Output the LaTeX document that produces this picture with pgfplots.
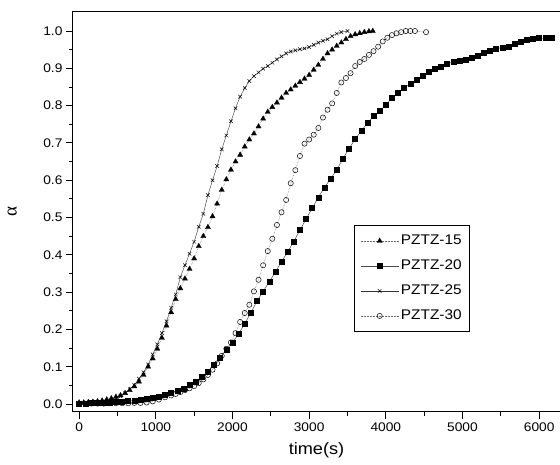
\documentclass[border=0pt]{standalone}
\usepackage{fontspec}
\setmainfont{Liberation Sans}[FakeStretch=1.1]
\newfontfamily\alphafont{Liberation Serif}
\usepackage{pgfplots}
\pgfplotsset{compat=1.18}
\pgfplotsset{
  /pgfplots/mylegimg/.style={legend image code/.code={
    \draw[mark repeat=2,mark phase=2,##1] plot coordinates {(0pt,0pt) (19pt,0pt) (38pt,0pt)};}}
}
\begin{document}
\begin{tikzpicture}
\begin{axis}[
  scale only axis,
  width=487pt, height=400pt,
  xmin=-80, xmax=6272,
  ymin=-0.0214, ymax=1.051,
  axis line style={line width=1pt},
  tick align=outside, tick pos=left,
  major tick length=7pt, minor tick length=4pt,
  every tick/.style={black, line width=0.9pt},
  xtick={0,1000,2000,3000,4000,5000,6000}, minor x tick num=1,
  ytick={0,0.1,0.2,0.3,0.4,0.5,0.6,0.7,0.8,0.9,1.0}, minor y tick num=1,
  /pgf/number format/assume math mode=true,
  yticklabel style={/pgf/number format/.cd, fixed, fixed zerofill, precision=1},
  xticklabel style={/pgf/number format/set thousands separator={}},
  tick label style={font=\fontsize{12.5}{14}\selectfont},
  xlabel={time(s)},
  ylabel={\alphafont α},
  every axis x label/.style={at={(axis description cs:0.5,-0.095)}, anchor=center, font=\fontsize{16.5}{19}\selectfont},
  every axis y label/.style={at={(axis description cs:-0.125,0.5)}, rotate=90, anchor=center, font=\fontsize{19}{22}\selectfont},
  legend cell align=left,
  legend style={at={(axis description cs:0.577,0.4675)}, anchor=north west, draw=black, line width=0.9pt,
    font=\fontsize{14}{16}\selectfont, inner xsep=6pt, inner ysep=3pt,
    nodes={text height=10pt, text depth=3pt, inner ysep=6pt}},
  mylegimg,
]
\coordinate (ll) at (rel axis cs:0,0);
\coordinate (ur) at (rel axis cs:1,1);

% PZTZ-15
\addplot[black!60, densely dotted, line width=0.5pt, mark=triangle*, mark size=3pt,
  mark options={solid, fill=black, draw=black, line width=0.3pt}] coordinates {
(0,0.004)(60,0.004)(120,0.005)(180,0.006)(240,0.007)(300,0.009)(360,0.012)(420,0.015)
(480,0.019)(540,0.023)(600,0.029)(660,0.037)(720,0.047)(780,0.060)(840,0.078)(900,0.100)
(960,0.122)(1020,0.148)(1080,0.177)(1140,0.210)(1200,0.246)(1260,0.281)(1320,0.310)
(1380,0.336)(1440,0.362)(1500,0.390)(1560,0.423)(1620,0.450)(1680,0.474)(1740,0.503)
(1800,0.537)(1860,0.574)(1920,0.602)(1980,0.628)(2040,0.650)(2100,0.668)(2160,0.690)
(2220,0.709)(2280,0.725)(2340,0.744)(2400,0.765)(2460,0.783)(2520,0.796)(2580,0.808)
(2640,0.821)(2700,0.834)(2760,0.843)(2820,0.853)(2880,0.863)(2940,0.872)(3000,0.882)
(3060,0.896)(3120,0.909)(3180,0.925)(3240,0.940)(3300,0.950)(3360,0.960)(3420,0.969)
(3480,0.978)(3540,0.986)(3600,0.991)(3660,0.994)(3720,0.997)(3780,0.999)(3830,1.000)
};
\addlegendentry{PZTZ-15}

% PZTZ-20
\addplot[black!70, solid, line width=0.5pt, mark=square*, mark size=2.5pt,
  mark options={solid, fill=black, draw=black}] coordinates {
(0,0.002)(80,0.002)(160,0.003)(240,0.003)(320,0.004)(400,0.004)(480,0.005)(560,0.006)
(640,0.008)(720,0.010)(800,0.012)(880,0.014)(960,0.016)(1040,0.020)(1120,0.024)(1200,0.029)
(1280,0.035)(1360,0.042)(1440,0.051)(1520,0.061)(1600,0.073)(1680,0.087)(1760,0.104)
(1840,0.125)(1920,0.146)(2000,0.165)(2080,0.188)(2160,0.215)(2240,0.245)(2320,0.276)
(2400,0.302)(2480,0.328)(2560,0.354)(2640,0.382)(2720,0.408)(2800,0.436)(2880,0.466)
(2960,0.496)(3040,0.525)(3120,0.554)(3200,0.581)(3280,0.604)(3360,0.628)(3440,0.657)
(3520,0.685)(3600,0.710)(3680,0.732)(3760,0.753)(3840,0.772)(3920,0.785)(4000,0.802)
(4080,0.820)(4160,0.834)(4240,0.847)(4320,0.859)(4400,0.870)(4480,0.881)(4560,0.890)
(4640,0.898)(4720,0.905)(4800,0.912)(4880,0.917)(4960,0.920)(5040,0.922)(5120,0.928)
(5200,0.935)(5280,0.941)(5360,0.947)(5440,0.952)(5520,0.956)(5600,0.959)(5680,0.965)
(5760,0.971)(5840,0.976)(5920,0.980)(6000,0.981)(6080,0.981)(6170,0.983)
};
\addlegendentry{PZTZ-20}

% PZTZ-25
\addplot[black!80, solid, line width=0.4pt, mark=x, mark size=2.5pt,
  mark options={solid, draw=black, line width=0.5pt}] coordinates {
(0,0.002)(60,0.002)(120,0.003)(180,0.003)(240,0.004)(300,0.004)(360,0.006)(420,0.009)
(480,0.014)(540,0.021)(600,0.029)(660,0.040)(720,0.051)(780,0.068)(840,0.085)(900,0.106)
(960,0.133)(1020,0.160)(1080,0.190)(1140,0.222)(1200,0.258)(1260,0.294)(1320,0.340)
(1380,0.372)(1440,0.403)(1500,0.435)(1560,0.475)(1620,0.510)(1680,0.560)(1740,0.600)
(1800,0.638)(1860,0.683)(1920,0.720)(1980,0.758)(2040,0.793)(2100,0.824)(2160,0.847)
(2220,0.866)(2280,0.879)(2340,0.889)(2400,0.899)(2460,0.906)(2520,0.915)(2580,0.924)
(2640,0.932)(2700,0.940)(2760,0.945)(2820,0.948)(2880,0.951)(2940,0.953)(3000,0.957)
(3060,0.963)(3120,0.969)(3180,0.974)(3240,0.978)(3300,0.986)(3360,0.993)(3420,0.997)
(3500,1.000)
};
\addlegendentry{PZTZ-25}

% PZTZ-30
\addplot[black!60, densely dotted, line width=0.5pt, mark=o, mark size=2.6pt,
  mark options={solid, draw=black, line width=0.5pt, fill=white}] coordinates {
(0,0.001)(80,0.001)(160,0.001)(240,0.001)(320,0.001)(400,0.002)(480,0.002)(560,0.002)
(640,0.002)(720,0.003)(800,0.003)(880,0.004)(960,0.007)(1040,0.012)(1120,0.018)(1200,0.023)
(1260,0.027)(1320,0.032)(1380,0.037)(1440,0.042)(1500,0.048)(1560,0.056)(1620,0.066)
(1680,0.078)(1740,0.092)(1800,0.109)(1860,0.129)(1920,0.148)(1980,0.165)(2040,0.190)
(2100,0.220)(2160,0.244)(2220,0.266)(2280,0.302)(2340,0.333)(2400,0.372)(2460,0.410)
(2520,0.443)(2580,0.480)(2640,0.514)(2700,0.547)(2760,0.592)(2820,0.627)(2880,0.665)
(2940,0.698)(3000,0.709)(3060,0.722)(3120,0.740)(3180,0.768)(3240,0.789)(3300,0.806)
(3360,0.834)(3420,0.862)(3480,0.874)(3540,0.887)(3600,0.906)(3660,0.917)(3720,0.925)
(3780,0.936)(3840,0.946)(3900,0.958)(3960,0.972)(4020,0.982)(4080,0.989)(4140,0.994)
(4200,0.997)(4260,1.000)(4320,1.000)(4380,1.000)(4525,0.997)
};
\addlegendentry{PZTZ-30}
\end{axis}
\pgfresetboundingbox
\useasboundingbox ([shift={(-73pt,-53pt)}]ll) rectangle ([shift={(0pt,12pt)}]ur);
\end{tikzpicture}
\end{document}
